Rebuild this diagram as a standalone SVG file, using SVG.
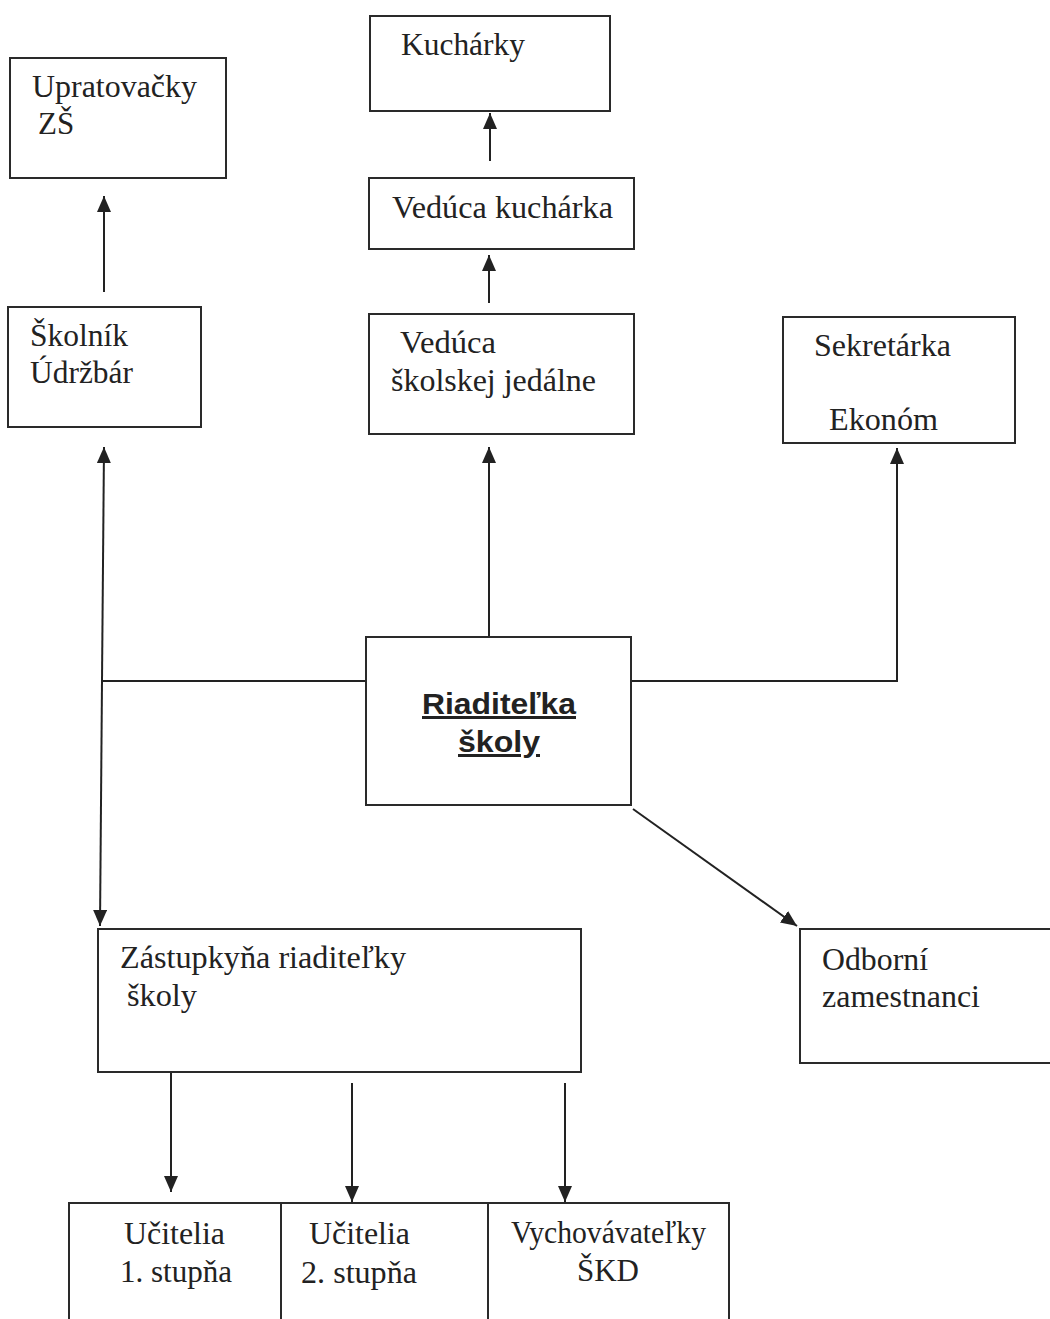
<svg xmlns="http://www.w3.org/2000/svg" width="1050" height="1319" viewBox="0 0 1050 1319">
<style>
.box{fill:#fff;stroke:#2a2a2a;stroke-width:2}
.t{font-family:"Liberation Serif","Times New Roman",serif;font-size:31px;fill:#222}
.b{font-family:"Liberation Sans",Arial,sans-serif;font-size:30px;font-weight:bold;fill:#222;text-decoration:underline}
.c{fill:none;stroke:#222;stroke-width:2}
</style>
<defs>
<marker id="ah" markerUnits="userSpaceOnUse" markerWidth="17" markerHeight="16" viewBox="0 0 17 16" refX="16" refY="7" orient="auto">
<path d="M0,0 L16,7 L0,14 Z" fill="#222"/>
</marker>
</defs>
<rect width="1050" height="1319" fill="#fff"/>
<g id="connectors">
<line class="c" x1="104" y1="292" x2="104" y2="196" marker-end="url(#ah)"/>
<line class="c" x1="490" y1="161" x2="490" y2="113" marker-end="url(#ah)"/>
<line class="c" x1="489" y1="303" x2="489" y2="255" marker-end="url(#ah)"/>
<line class="c" x1="489" y1="637" x2="489" y2="447" marker-end="url(#ah)"/>
<polyline class="c" points="632,681 897,681 897,448" marker-end="url(#ah)"/>
<line class="c" x1="366" y1="681" x2="102" y2="681"/>
<line class="c" x1="102" y1="681" x2="104" y2="447" marker-end="url(#ah)"/>
<line class="c" x1="102" y1="681" x2="100" y2="926" marker-end="url(#ah)"/>
<line class="c" x1="633" y1="809" x2="797" y2="926" marker-end="url(#ah)"/>
<line class="c" x1="171" y1="1073" x2="171" y2="1192" marker-end="url(#ah)"/>
<line class="c" x1="352" y1="1083" x2="352" y2="1202" marker-end="url(#ah)"/>
<line class="c" x1="565" y1="1083" x2="565" y2="1202" marker-end="url(#ah)"/>
</g>
<g id="upratovacky">
<rect class="box" x="10" y="58" width="216" height="120"/>
<text class="t" x="32" y="97" textLength="165" lengthAdjust="spacingAndGlyphs">Upratovačky</text>
<text class="t" x="38" y="134">ZŠ</text>
</g>
<g id="skolnik">
<rect class="box" x="8" y="307" width="193" height="120"/>
<text class="t" x="30" y="346" textLength="98" lengthAdjust="spacingAndGlyphs">Školník</text>
<text class="t" x="30" y="383" textLength="103" lengthAdjust="spacingAndGlyphs">Údržbár</text>
</g>
<g id="kucharky">
<rect class="box" x="370" y="16" width="240" height="95"/>
<text class="t" x="401" y="55" textLength="124" lengthAdjust="spacingAndGlyphs">Kuchárky</text>
</g>
<g id="veduca-kucharka">
<rect class="box" x="369" y="178" width="265" height="71"/>
<text class="t" x="392" y="218" textLength="221" lengthAdjust="spacingAndGlyphs">Vedúca kuchárka</text>
</g>
<g id="veduca-jedalne">
<rect class="box" x="369" y="314" width="265" height="120"/>
<text class="t" x="400" y="353" textLength="96" lengthAdjust="spacingAndGlyphs">Vedúca</text>
<text class="t" x="391" y="391" textLength="205" lengthAdjust="spacingAndGlyphs">školskej jedálne</text>
</g>
<g id="sekretarka">
<rect class="box" x="783" y="317" width="232" height="126"/>
<text class="t" x="814" y="356" textLength="137" lengthAdjust="spacingAndGlyphs">Sekretárka</text>
<text class="t" x="829" y="430" textLength="109" lengthAdjust="spacingAndGlyphs">Ekonóm</text>
</g>
<g id="riaditelka">
<rect class="box" x="366" y="637" width="265" height="168"/>
<text class="b" x="499" y="714" text-anchor="middle" textLength="154" lengthAdjust="spacingAndGlyphs">Riaditeľka</text>
<text class="b" x="499" y="752" text-anchor="middle" textLength="82" lengthAdjust="spacingAndGlyphs">školy</text>
</g>
<g id="odborni">
<rect class="box" x="800" y="929" width="270" height="134"/>
<text class="t" x="822" y="970" textLength="106" lengthAdjust="spacingAndGlyphs">Odborní</text>
<text class="t" x="822" y="1007" textLength="158" lengthAdjust="spacingAndGlyphs">zamestnanci</text>
</g>
<g id="zastupkyna">
<rect class="box" x="98" y="929" width="483" height="143"/>
<text class="t" x="120" y="968" textLength="286" lengthAdjust="spacingAndGlyphs">Zástupkyňa riaditeľky</text>
<text class="t" x="127" y="1006" textLength="70" lengthAdjust="spacingAndGlyphs">školy</text>
</g>
<g id="ucitelia1">
<rect class="box" x="69" y="1203" width="212" height="140"/>
<text class="t" x="124" y="1244" textLength="101" lengthAdjust="spacingAndGlyphs">Učitelia</text>
<text class="t" x="120" y="1282" textLength="112" lengthAdjust="spacingAndGlyphs">1. stupňa</text>
</g>
<g id="ucitelia2">
<rect class="box" x="281" y="1203" width="207" height="140"/>
<text class="t" x="309" y="1244" textLength="101" lengthAdjust="spacingAndGlyphs">Učitelia</text>
<text class="t" x="301" y="1283" textLength="116" lengthAdjust="spacingAndGlyphs">2. stupňa</text>
</g>
<g id="vychovavatelky">
<rect class="box" x="488" y="1203" width="241" height="140"/>
<text class="t" x="511" y="1243" textLength="195" lengthAdjust="spacingAndGlyphs">Vychovávateľky</text>
<text class="t" x="577" y="1281" textLength="62" lengthAdjust="spacingAndGlyphs">ŠKD</text>
</g>
</svg>
